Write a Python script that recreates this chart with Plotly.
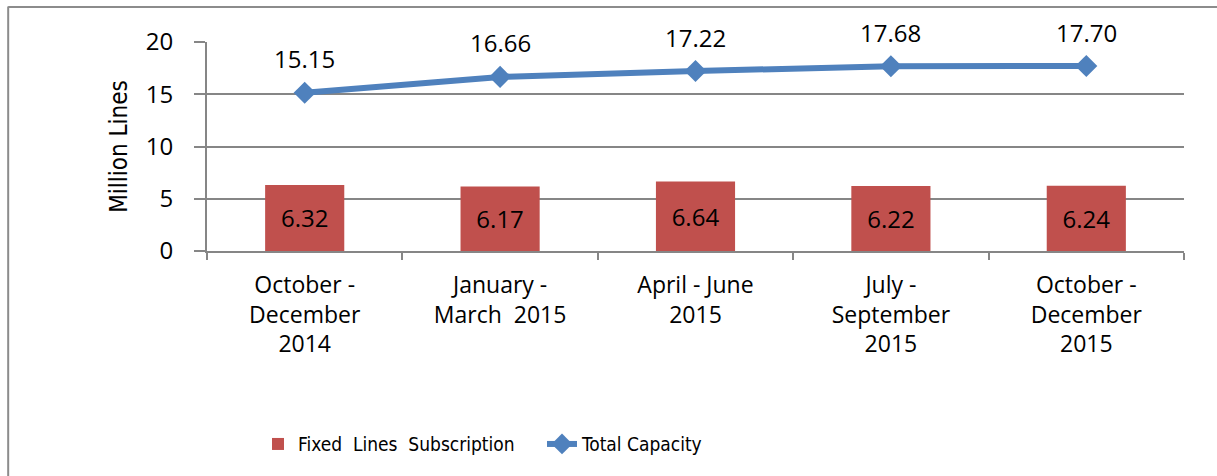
import plotly.graph_objects as go

categories = ["Oct-Dec 2014", "Jan-Mar 2015", "Apr-Jun 2015", "Jul-Sep 2015", "Oct-Dec 2015"]
tick_labels = ["October -<br>December<br>2014", "January -<br>March  2015", "April - June<br>2015",
               "July -<br>September<br>2015", "October -<br>December<br>2015"]
fixed_lines = [6.32, 6.17, 6.64, 6.22, 6.24]
total_capacity = [15.15, 16.66, 17.22, 17.68, 17.70]

MAIN_FONT = "Open Sans, DejaVu Sans, sans-serif"
NARROW_FONT = "Liberation Sans Narrow, DejaVu Sans Condensed, Roboto Condensed, sans-serif"

fig = go.Figure()
fig.add_trace(go.Bar(
    x=categories, y=fixed_lines, name="Fixed  Lines  Subscription",
    marker=dict(color="#C0504D", line=dict(width=0)),
    text=[f"{v:.2f}" for v in fixed_lines], textposition="inside",
    insidetextanchor="middle", textangle=0,
    textfont=dict(family=MAIN_FONT, size=24, color="black"),
))
fig.add_trace(go.Scatter(
    x=categories, y=total_capacity, name="Total Capacity", mode="lines+markers",
    line=dict(color="#4F81BD", width=6),
    marker=dict(symbol="diamond", size=17, color="#4F81BD"),
))
for c, v in zip(categories, total_capacity):
    fig.add_annotation(x=c, y=v, text=f"{v:.2f}", showarrow=False, yshift=34,
                       font=dict(family=MAIN_FONT, size=24, color="black"))

fig.update_layout(
    width=1217, height=476,
    margin=dict(l=207, r=33, t=42, b=225),
    plot_bgcolor="white", paper_bgcolor="white",
    bargap=0.595,
    showlegend=True,
    legend=dict(orientation="h", xref="container", yref="container",
                x=0.212, y=0.067, xanchor="left", yanchor="middle",
                font=dict(family=NARROW_FONT, size=19, color="black"),
                entrywidth=239, traceorder="normal"),
    shapes=[
        dict(type="line", xref="paper", yref="paper", x0=-0.2035, x1=-0.2035, y0=1.17, y1=-1.2,
             line=dict(color="#8c8c8c", width=2)),
        dict(type="line", xref="paper", yref="paper", x0=-0.2035, x1=1.1, y0=1.1675, y1=1.1675,
             line=dict(color="#8c8c8c", width=2)),
    ],
)
fig.update_xaxes(
    tickmode="array", tickvals=categories, ticktext=tick_labels,
    tickson="boundaries", ticks="outside", ticklen=7, tickcolor="#868686", tickwidth=2,
    showline=True, linecolor="#868686", linewidth=2,
    tickfont=dict(family=MAIN_FONT, size=23, color="black"),
    ticklabelstandoff=12,
)
fig.update_yaxes(
    range=[0, 20], dtick=5, tick0=0,
    showgrid=True, gridcolor="#868686", gridwidth=2,
    ticks="outside", ticklen=11, tickcolor="#868686", tickwidth=2,
    showline=True, linecolor="#868686", linewidth=2,
    tickfont=dict(family=MAIN_FONT, size=24, color="black"),
    ticklabelstandoff=16, zeroline=False,
    title=dict(text="Million Lines", font=dict(family=NARROW_FONT, size=24, color="black"), standoff=11),
)

fig.write_html("out.html", config={"displayModeBar": False},
               post_script="document.body.style.margin='0';")
